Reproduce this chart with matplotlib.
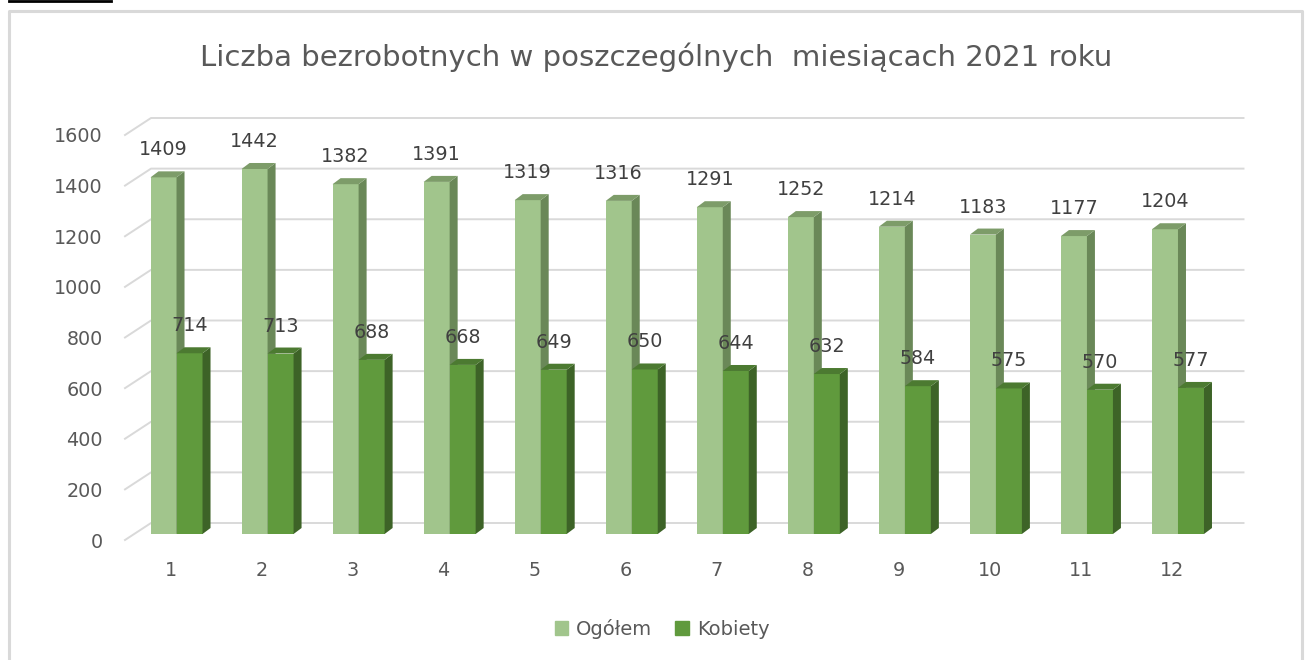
import matplotlib.pyplot as plt
from matplotlib.patches import Polygon, Patch
from matplotlib.lines import Line2D

# data
months = [str(m) for m in range(1, 13)]
ogolem = [1409, 1442, 1382, 1391, 1319, 1316, 1291, 1252, 1214, 1183, 1177, 1204]
kobiety = [714, 713, 688, 668, 649, 650, 644, 632, 584, 575, 570, 577]
yticks = list(range(0, 1601, 200))

c_light = "#A1C58C"
c_light_side = "#6A8858"
c_light_top = "#7D9C69"
c_dark = "#609A3D"
c_dark_side = "#3D6327"
c_dark_top = "#4C7A31"
txt = "#595959"

W, H = 1311, 660
fig = plt.figure(figsize=(W / 100, H / 100), dpi=100)

# axes placed in pixel terms
left, right, top, bot = 125, 1217.5, 135, 540
ax = fig.add_axes([left / W, 1 - bot / H, (right - left) / W, (bot - top) / H])
ax.set_xlim(0.5, 12.5)
ax.set_ylim(0, 1600)
for s in ax.spines.values():
    s.set_visible(False)

# 3d offsets (data units)
px_x = (right - left) / 12
px_y = (bot - top) / 1600
gx, gy = 26 / px_x, 17 / px_y      # back wall offset
sx, sy = 6 / px_x, 6 / px_y        # bar row offset
dx, dy = 8 / px_x, 6 / px_y        # bar depth
bw = 26 / px_x

# back wall gridlines
for v in yticks:
    ax.add_line(Line2D([0.5, 0.5 + gx, 12.5 + gx], [v, v + gy, v + gy],
                       color="#D9D9D9", lw=1.4, clip_on=False, zorder=1))


def bar3d(x0, v, front, side, topc, z):
    x1 = x0 + bw
    y0, y1 = sy, sy + v
    ax.bar(x0, v, width=bw, bottom=y0, align="edge", color=front, zorder=z, lw=0)
    ax.add_patch(Polygon([(x1, y0), (x1 + dx, y0 + dy), (x1 + dx, y1 + dy), (x1, y1)],
                         closed=True, fc=side, lw=0, zorder=z, clip_on=False))
    ax.add_patch(Polygon([(x0, y1), (x1, y1), (x1 + dx, y1 + dy), (x0 + dx, y1 + dy)],
                         closed=True, fc=topc, lw=0, zorder=z, clip_on=False))
    ax.text(x0 + bw / 2, y1 + dy + 12 / px_y, str(v), ha="center", va="bottom",
            fontsize=13.8, color="#404040", zorder=5)


for i, (o, k) in enumerate(zip(ogolem, kobiety)):
    xc = i + 1 + sx
    bar3d(xc - bw, o, c_light, c_light_side, c_light_top, 2 + i * 0.01)
    bar3d(xc, k, c_dark, c_dark_side, c_dark_top, 3 + i * 0.01)

ax.set_yticks(yticks)
ax.set_yticklabels([str(v) for v in yticks], fontsize=13.8, color=txt)
ax.set_xticks(range(1, 13))
ax.set_xticklabels(months, fontsize=13.8, color=txt)
ax.tick_params(axis="y", length=0, pad=16)
ax.tick_params(axis="x", length=0, pad=15)

fig.text(656 / W, 1 - 57 / H,
         "Liczba bezrobotnych w poszczególnych  miesiącach 2021 roku",
         ha="center", va="center", fontsize=21, color=txt)

handles = [Patch(color=c_light, label="Ogółem"), Patch(color=c_dark, label="Kobiety")]
fig.legend(handles=handles, loc="center", bbox_to_anchor=(662 / W, 1 - 629 / H),
           ncol=2, frameon=False, fontsize=14, handlelength=0.7, handleheight=0.7,
           handletextpad=0.4, columnspacing=1.2, labelcolor=txt)

# chart border and top line
border = Line2D([9 / W, 9 / W, 1302 / W, 1302 / W], [0, 1 - 11 / H, 1 - 11 / H, 0],
                transform=fig.transFigure, color="#D9D9D9", lw=2.2)
fig.add_artist(border)
fig.add_artist(Line2D([9 / W, 111 / W], [1 - 1 / H, 1 - 1 / H],
                      transform=fig.transFigure, color="black", lw=2))

fig.savefig("out.png", dpi=100)
